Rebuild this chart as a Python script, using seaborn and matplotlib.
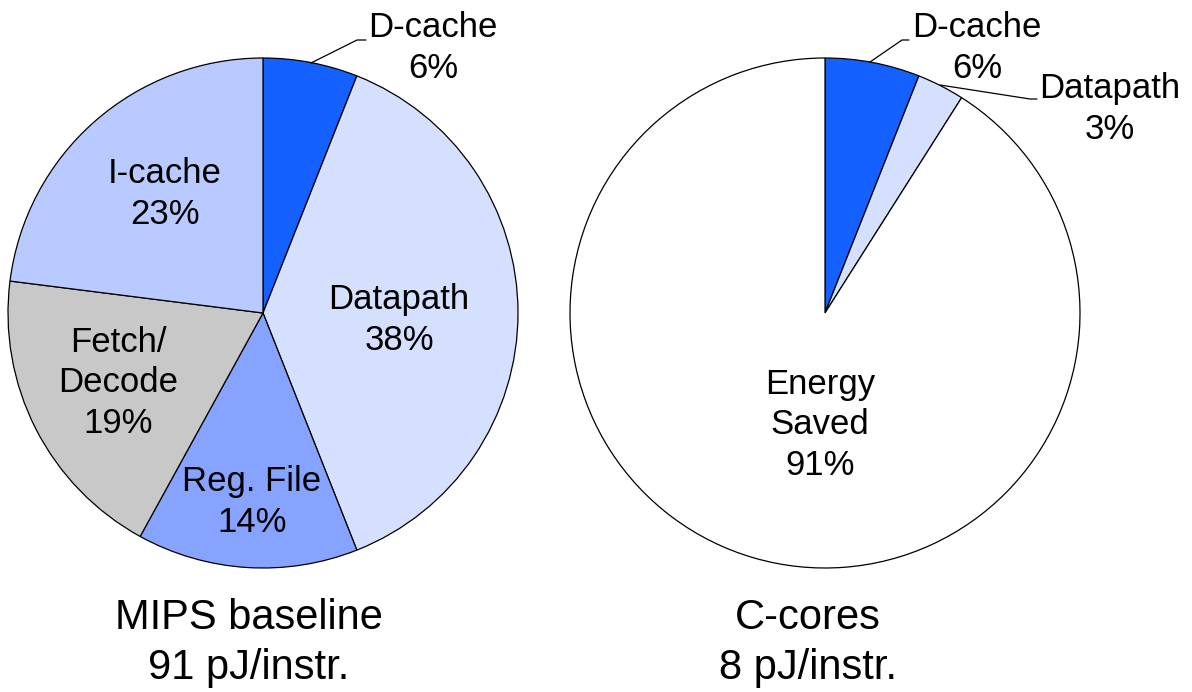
import matplotlib
matplotlib.use("Agg")
import matplotlib.pyplot as plt
import seaborn as sns

# Energy breakdown per instruction
mips_parts = ["D-cache", "Datapath", "Reg. File", "Fetch/\nDecode", "I-cache"]
mips_share = [6, 38, 14, 19, 23]
ccore_parts = ["D-cache", "Datapath", "Energy\nSaved"]
ccore_share = [6, 3, 91]
titles = ["MIPS baseline\n91 pJ/instr.", "C-cores\n8 pJ/instr."]

sns.set_theme(style="white")
plt.rcParams["font.family"] = ["Liberation Sans", "DejaVu Sans"]

mips_colors = ["#1561FF", "#D5E0FF", "#86A4FF", "#C8C8C8", "#B8CAFF"]
ccore_colors = ["#1561FF", "#D5E0FF", "#FFFFFF"]

W, H = 1192, 692
fig = plt.figure(figsize=(W / 100, H / 100), dpi=100)
ax = fig.add_axes([0, 0, 1, 1])


def y(py):
    return H - py


radius = 255
wedge_style = dict(edgecolor="black", linewidth=0.9)
ax.pie(mips_share, colors=mips_colors, startangle=90, counterclock=False,
       center=(263, y(313)), radius=radius, wedgeprops=wedge_style, frame=True)
ax.pie(ccore_share, colors=ccore_colors, startangle=90, counterclock=False,
       center=(825, y(313)), radius=radius, wedgeprops=wedge_style, frame=True)
ax.set_xlim(0, W)
ax.set_ylim(0, H)
ax.set_aspect("equal")
ax.axis("off")

label_fs = 25
# slice labels (text centre in pixels)
mips_label_xy = [(433, 48), (399, 320), (252, 502), (118, 383), (165, 194)]
for name, val, (px, py) in zip(mips_parts, mips_share, mips_label_xy):
    ax.text(px, y(py), f"{name}\n{val}%", ha="center", va="center",
            fontsize=label_fs, linespacing=1.28, color="black")

ccore_label_xy = [(977, 48), (1110, 109), (820, 425)]
for name, val, (px, py) in zip(ccore_parts, ccore_share, ccore_label_xy):
    ax.text(px, y(py), f"{name}\n{val}%", ha="center", va="center",
            fontsize=label_fs, linespacing=1.28, color="black")

# leader lines for the small slices
leaders = [
    [(311, 63), (357, 40), (366, 40)],
    [(870, 62), (902, 40), (909, 40)],
    [(940, 85), (1030, 99), (1037, 99)],
]
for pts in leaders:
    ax.plot([p[0] for p in pts], [y(p[1]) for p in pts], color="black", lw=0.9)

# captions under each pie
for cx, txt in zip([249, 808], titles):
    ax.text(cx, y(643), txt, ha="center", va="center", fontsize=30,
            linespacing=1.33, color="black")

fig.savefig("out.png", dpi=100, facecolor="white")
